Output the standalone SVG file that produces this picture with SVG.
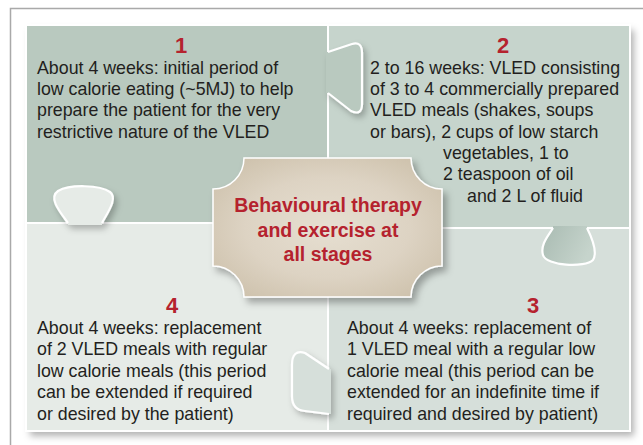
<svg xmlns="http://www.w3.org/2000/svg" width="643" height="445" viewBox="0 0 643 445">
<defs>
<style>
.body{font-family:"Liberation Sans",Arial,sans-serif;font-size:17.8px;fill:#231f20}
.num{font-family:"Liberation Sans",Arial,sans-serif;font-size:22px;font-weight:bold;fill:#b5222e;text-anchor:middle}
.ctr{font-family:"Liberation Sans",Arial,sans-serif;font-size:19.5px;font-weight:bold;fill:#b5222e;text-anchor:middle}
.edge{fill:none;stroke:#ffffff;stroke-width:2}
.tabline{fill:none;stroke:#ffffff;stroke-width:2.2;stroke-linejoin:round}
</style>
<filter id="sh" x="-10%" y="-10%" width="130%" height="130%">
<feDropShadow dx="4" dy="5" stdDeviation="3.5" flood-color="#000" flood-opacity="0.3"/>
</filter>
<filter id="tsh" x="-30%" y="-30%" width="170%" height="170%">
<feDropShadow dx="3" dy="4" stdDeviation="3" flood-color="#000" flood-opacity="0.25"/>
</filter>
<radialGradient id="beige" cx="50%" cy="50%" r="60%">
<stop offset="0" stop-color="#e6dfd1"/>
<stop offset="0.6" stop-color="#ddd3c3"/>
<stop offset="1" stop-color="#cfc3ae"/>
</radialGradient>
<linearGradient id="tabc" x1="0" y1="0" x2="1" y2="0.4">
<stop offset="0" stop-color="#a9bbb2"/>
<stop offset="1" stop-color="#c6d4cc"/>
</linearGradient>
</defs>
<rect x="0" y="0" width="643" height="445" fill="#ffffff"/>
<path d="M10.5 445 L10.5 8.5 L643 8.5" fill="none" stroke="#a9a9a9" stroke-width="1.5"/>

<g id="puzzle" filter="url(#sh)">
<rect x="26" y="25" width="604" height="406" fill="#ffffff"/>
</g>

<g id="node-1">
<rect x="26" y="25" width="302" height="198" fill="#b9c9bf"/>
</g>
<g id="node-2">
<rect x="328" y="25" width="302" height="203" fill="#c6d4cc"/>
</g>
<g id="node-4">
<rect x="26" y="223" width="302" height="208" fill="#e6ebe7"/>
</g>
<g id="node-3">
<rect x="328" y="228" width="302" height="203" fill="#d6dfda"/>
</g>

<g id="dividers">
<path class="edge" d="M328 25 L328 431 M26 223 L328 223 M328 228 L630 228"/>
<rect x="26" y="25" width="604" height="406" class="edge"/>
</g>

<g id="tabs">
<g filter="url(#tsh)">
<path d="M326 52 L328 52 L352 44 Q362 41 362 53 L362 104 Q362 116 351 111 L328 93 L326 93 Z" fill="#b9c9bf"/>
<path class="tabline" d="M328 52 L352 44 Q362 41 362 53 L362 104 Q362 116 351 111 L328 93"/>
</g>
<g filter="url(#tsh)">
<path d="M68 225 L68 223 C60 212 48 198 58 191 C70 184 100 185 110 192 C118 198 108 212 102 223 L102 225 Z" fill="#e6ebe7"/>
<path class="tabline" d="M68 223 C60 212 48 198 58 191 C70 184 100 185 110 192 C118 198 108 212 102 223"/>
</g>
<g>
<path d="M553 226 L553 228 C548 236 540 245 543 255 C546 266 585 268 593 260 C598 252 592 238 587 228 L587 226 Z" fill="url(#tabc)"/>
<path class="tabline" d="M553 228 C548 236 540 245 543 255 C546 266 585 268 593 260 C598 252 592 238 587 228"/>
</g>
<g filter="url(#tsh)">
<path d="M331 369 L329 369 L305 353 Q292 349 292 365 L292 396 Q292 410 305 411 L329 414 L331 414 Z" fill="#d6dfda"/>
<path class="tabline" d="M329 369 L305 353 Q292 349 292 365 L292 396 Q292 410 305 411 L329 414"/>
</g>
</g>

<g id="node-center" filter="url(#sh)">
<path d="M244 158 L411 158 A31 31 0 0 0 442 189 L442 266 A31 31 0 0 0 411 297 L244 297 A31 31 0 0 0 213 266 L213 189 A31 31 0 0 0 244 158 Z" fill="url(#beige)" stroke="#ffffff" stroke-width="1.5"/>
</g>

<g id="labels">
<text class="num" x="181" y="53">1</text>
<text class="body" x="37"><tspan x="37" y="73.5">About 4 weeks: initial period of</tspan><tspan x="37" y="95">low calorie eating (~5MJ) to help</tspan><tspan x="37" y="116.3">prepare the patient for the very</tspan><tspan x="37" y="137.7">restrictive nature of the VLED</tspan></text>

<text class="num" x="503" y="53">2</text>
<text class="body"><tspan x="370" y="73.5">2 to 16 weeks: VLED consisting</tspan><tspan x="370" y="95">of 3 to 4 commercially prepared</tspan><tspan x="370" y="116.3">VLED meals (shakes, soups</tspan><tspan x="370" y="137.7">or bars), 2 cups of low starch</tspan><tspan x="443" y="159">vegetables, 1 to</tspan><tspan x="443" y="180.3">2 teaspoon of oil</tspan><tspan x="467" y="201.7">and 2 L of fluid</tspan></text>

<text class="num" x="172" y="313">4</text>
<text class="body"><tspan x="37" y="333.5">About 4 weeks: replacement</tspan><tspan x="37" y="355">of 2 VLED meals with regular</tspan><tspan x="37" y="376.5">low calorie meals (this period</tspan><tspan x="37" y="398">can be extended if required</tspan><tspan x="37" y="419.5">or desired by the patient)</tspan></text>

<text class="num" x="533" y="313">3</text>
<text class="body"><tspan x="347" y="333.5">About 4 weeks: replacement of</tspan><tspan x="347" y="355">1 VLED meal with a regular low</tspan><tspan x="347" y="376.5">calorie meal (this period can be</tspan><tspan x="347" y="398">extended for an indefinite time if</tspan><tspan x="347" y="419.5">required and desired by patient)</tspan></text>

<text class="ctr"><tspan x="328" y="212">Behavioural therapy</tspan><tspan x="328" y="236.5">and exercise at</tspan><tspan x="328" y="260.5">all stages</tspan></text>
</g>
</svg>
